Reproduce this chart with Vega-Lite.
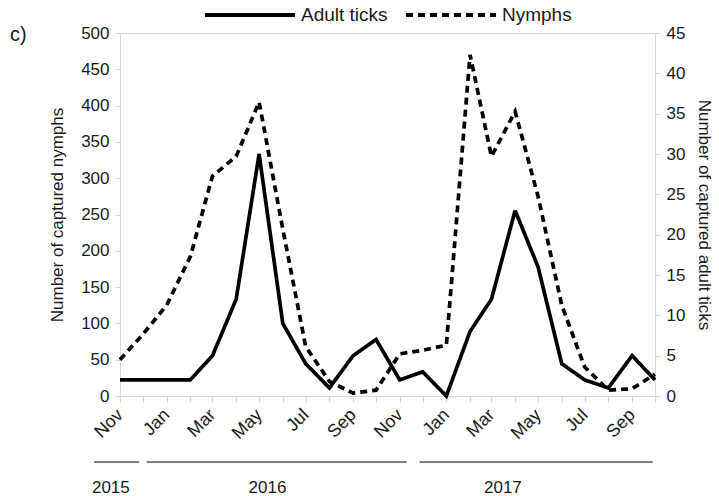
{
  "$schema": "https://vega.github.io/schema/vega-lite/v6.json",
  "width": 535,
  "height": 363,
  "autosize": {"type": "none"},
  "padding": {"left": 120, "top": 33, "right": 64, "bottom": 100},
  "background": "white",
  "config": {
    "font": "Liberation Sans",
    "view": {"stroke": "#d9d9d9"},
    "axis": {
      "domainColor": "#d9d9d9",
      "tickColor": "#d9d9d9",
      "labelColor": "#1a1a1a",
      "titleColor": "#1a1a1a",
      "labelFontSize": 17,
      "titleFontSize": 17,
      "titleFontWeight": "normal",
      "labelOverlap": false,
      "grid": false
    },
    "legend": {"layout": {"top": {"anchor": "middle"}}}
  },
  "data": {
    "values": [
      {"month": "2015-11-01", "nymphs": 50, "adults": 2},
      {"month": "2015-12-01", "nymphs": 85, "adults": 2},
      {"month": "2016-01-01", "nymphs": 125, "adults": 2},
      {"month": "2016-02-01", "nymphs": 192, "adults": 2},
      {"month": "2016-03-01", "nymphs": 303, "adults": 5},
      {"month": "2016-04-01", "nymphs": 330, "adults": 12},
      {"month": "2016-05-01", "nymphs": 405, "adults": 30},
      {"month": "2016-06-01", "nymphs": 230, "adults": 9},
      {"month": "2016-07-01", "nymphs": 68, "adults": 4},
      {"month": "2016-08-01", "nymphs": 20, "adults": 1},
      {"month": "2016-09-01", "nymphs": 4, "adults": 5},
      {"month": "2016-10-01", "nymphs": 8, "adults": 7},
      {"month": "2016-11-01", "nymphs": 58, "adults": 2},
      {"month": "2016-12-01", "nymphs": 63, "adults": 3},
      {"month": "2017-01-01", "nymphs": 70, "adults": 0},
      {"month": "2017-02-01", "nymphs": 470, "adults": 8},
      {"month": "2017-03-01", "nymphs": 330, "adults": 12},
      {"month": "2017-04-01", "nymphs": 392, "adults": 23},
      {"month": "2017-05-01", "nymphs": 275, "adults": 16},
      {"month": "2017-06-01", "nymphs": 125, "adults": 4},
      {"month": "2017-07-01", "nymphs": 40, "adults": 2},
      {"month": "2017-08-01", "nymphs": 8, "adults": 1},
      {"month": "2017-09-01", "nymphs": 10, "adults": 5},
      {"month": "2017-10-01", "nymphs": 30, "adults": 2}
    ]
  },
  "layer": [
    {
      "layer": [
        {
          "mark": {"type": "line", "color": "black", "strokeWidth": 3.7},
          "encoding": {
            "x": {
              "field": "month",
              "type": "temporal",
              "scale": {
                "type": "utc",
                "nice": false,
                "domain": [
                  {"year": 2015, "month": 11, "date": 1, "utc": true},
                  {"year": 2017, "month": 10, "date": 1, "utc": true}
                ]
              },
              "axis": {
                "title": null,
                "tickCount": {"interval": "month", "step": 1},
                "labelExpr": "utcmonth(datum.value) % 2 == 0 ? utcFormat(datum.value, '%b') : ''",
                "labelAngle": -45,
                "labelAlign": "right",
                "labelBaseline": "middle",
                "labelFontSize": 18,
                "tickSize": 6,
                "labelPadding": 10,
                "labelBound": false
              }
            },
            "y": {
              "field": "nymphs",
              "type": "quantitative",
              "scale": {"domain": [0, 500], "nice": false},
              "axis": {
                "title": "Number of captured nymphs",
                "values": [0, 50, 100, 150, 200, 250, 300, 350, 400, 450, 500],
                "tickSize": 5,
                "labelPadding": 6,
                "titlePadding": 14
              }
            },
            "strokeDash": {
              "datum": "Nymphs",
              "scale": {"domain": ["Adult ticks", "Nymphs"], "range": [[1, 0], [7, 5]]},
              "legend": {
                "orient": "top",
                "direction": "horizontal",
                "title": null,
                "symbolType": "stroke",
                "symbolSize": 8100,
                "symbolStrokeWidth": 4,
                "symbolStrokeColor": "black",
                "labelFontSize": 19,
                "labelColor": "#1a1a1a",
                "columnPadding": 10,
                "labelOffset": 4,
                "offset": 8
              }
            }
          }
        },
        {
          "data": {
            "values": [
              {"year": "2015", "start": "2015-09-28", "end": "2015-11-26"},
              {"year": "2016", "start": "2015-12-06", "end": "2016-11-10"},
              {"year": "2017", "start": "2016-11-27", "end": "2017-09-28"}
            ]
          },
          "mark": {"type": "rule", "color": "#555555", "strokeWidth": 1.5},
          "encoding": {
            "x": {"field": "start", "type": "temporal"},
            "x2": {"field": "end"},
            "y": {
              "datum": -91,
              "type": "quantitative",
              "axis": {
                "title": "Number of captured nymphs",
                "values": [0, 50, 100, 150, 200, 250, 300, 350, 400, 450, 500],
                "tickSize": 5,
                "labelPadding": 6,
                "titlePadding": 14
              }
            }
          }
        },
        {
          "data": {
            "values": [
              {"year": "2015", "mid": "2015-10-20"},
              {"year": "2016", "mid": "2016-05-12"},
              {"year": "2017", "mid": "2017-03-16"}
            ]
          },
          "mark": {"type": "text", "fontSize": 17, "color": "#1a1a1a", "baseline": "middle", "align": "center"},
          "encoding": {
            "x": {"field": "mid", "type": "temporal"},
            "y": {
              "datum": -127,
              "type": "quantitative",
              "axis": {
                "title": "Number of captured nymphs",
                "values": [0, 50, 100, 150, 200, 250, 300, 350, 400, 450, 500],
                "tickSize": 5,
                "labelPadding": 6,
                "titlePadding": 14
              }
            },
            "text": {"field": "year"}
          }
        },
        {
          "data": {"values": [{"label": "c)"}]},
          "mark": {"type": "text", "fontSize": 20, "color": "#1a1a1a", "baseline": "middle", "align": "left"},
          "encoding": {
            "x": {"datum": {"year": 2015, "month": 6, "date": 10, "utc": true}, "type": "temporal"},
            "y": {
              "datum": 497,
              "type": "quantitative",
              "axis": {
                "title": "Number of captured nymphs",
                "values": [0, 50, 100, 150, 200, 250, 300, 350, 400, 450, 500],
                "tickSize": 5,
                "labelPadding": 6,
                "titlePadding": 14
              }
            },
            "text": {"field": "label"}
          }
        }
      ]
    },
    {
      "mark": {"type": "line", "color": "black", "strokeWidth": 3.7},
      "encoding": {
        "x": {"field": "month", "type": "temporal"},
        "y": {
          "field": "adults",
          "type": "quantitative",
          "scale": {"domain": [0, 45], "nice": false},
          "axis": {
            "orient": "right",
            "title": "Number of captured adult ticks",
            "values": [0, 5, 10, 15, 20, 25, 30, 35, 40, 45],
            "tickSize": 5,
            "labelPadding": 6,
            "titlePadding": 10
          }
        },
        "strokeDash": {"datum": "Adult ticks"}
      }
    }
  ],
  "resolve": {"scale": {"y": "independent"}}
}
